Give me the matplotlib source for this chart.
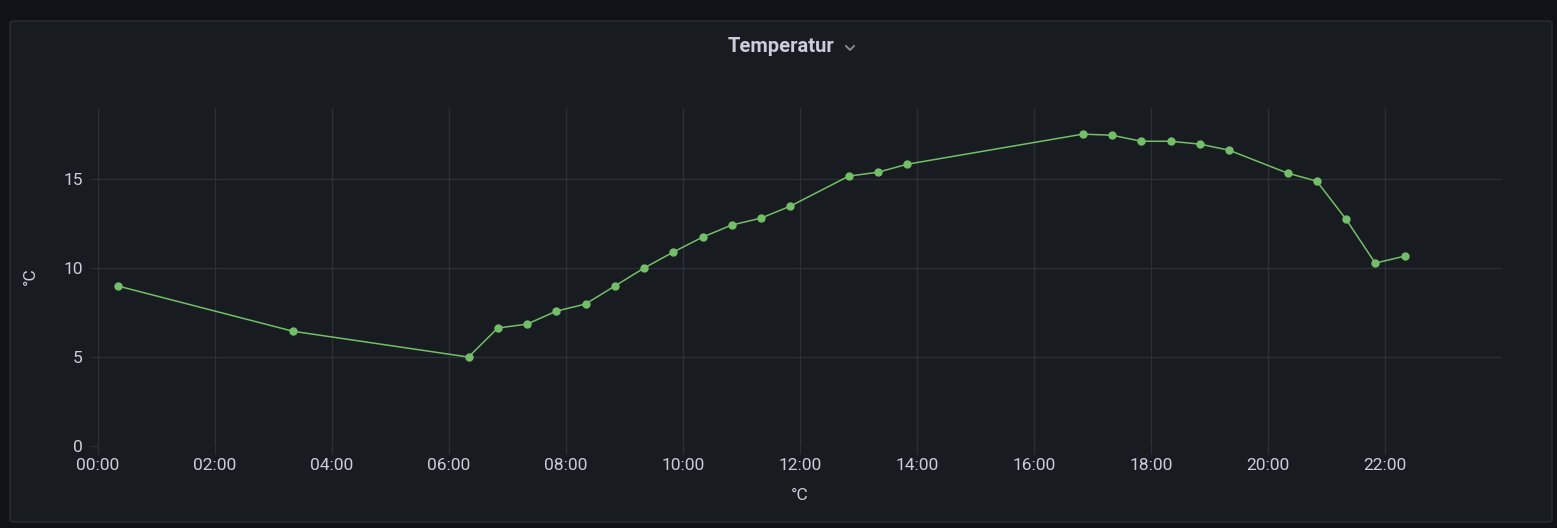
import matplotlib
matplotlib.use('Agg')
import matplotlib.pyplot as plt
from matplotlib.patches import FancyBboxPatch
from matplotlib.lines import Line2D

# Readings (time as "HH:MM", value in °C)
times = ['00:20', '03:20', '06:20', '06:50', '07:20', '07:50', '08:20', '08:50',
         '09:20', '09:50', '10:20', '10:50', '11:20', '11:50', '12:50', '13:20',
         '13:50', '16:50', '17:20', '17:50', '18:20', '18:50', '19:20', '20:20',
         '20:50', '21:20', '21:50', '22:20']
temps = [9.0, 6.45, 5.0, 6.63, 6.85, 7.58, 7.98, 8.99, 10.0, 10.9, 11.74, 12.42,
         12.81, 13.48, 15.17, 15.39, 15.84, 17.53, 17.47, 17.13, 17.13, 16.97,
         16.63, 15.34, 14.89, 12.75, 10.28, 10.67]
x_ticks = list(range(0, 24, 2))
x_ticklabels = [f'{h:02d}:00' for h in x_ticks]
y_ticks = [0, 5, 10, 15]

hours = [int(t[:2]) + int(t[3:]) / 60 for t in times]

plt.rcParams['font.family'] = ['Roboto', 'DejaVu Sans']

W, H = 1557, 528
fig = plt.figure(figsize=(W / 100, H / 100), dpi=100, facecolor='#111217')

# panel background
panel = FancyBboxPatch((10 / W, 1 - 522 / H), 1542 / W, 501 / H,
                       boxstyle='round,pad=0,rounding_size=0.003',
                       transform=fig.transFigure, facecolor='#181b1f',
                       edgecolor='#2a2d33', linewidth=1, zorder=-5)
fig.patches.append(panel)

fig.text(781 / W, 1 - 47 / H, 'Temperatur', color='#ccccdc', fontsize=14.5,
         fontweight='bold', ha='center', va='center')
# dropdown chevron
fig.add_artist(Line2D([846 / W, 850 / W, 854 / W],
                      [1 - 46 / H, 1 - 50 / H, 1 - 46 / H],
                      transform=fig.transFigure, color='#8e8e9a', linewidth=1.3))

ax = fig.add_axes([98 / W, 1 - 446 / H, (1502 - 98) / W, (446 - 108) / H])
ax.set_facecolor('#181b1f')
ax.plot(hours, temps, color='#73bf69', linewidth=1.1, marker='o',
        markersize=5, zorder=3)

ax.set_xlim(0, 24)
ax.set_ylim(0, 19)
ax.set_xticks(x_ticks)
ax.set_xticklabels(x_ticklabels)
ax.set_yticks(y_ticks)

grid_c = '#2c2f35'
ax.grid(True, color=grid_c, linewidth=1)
for s in ax.spines.values():
    s.set_visible(False)
ax.tick_params(axis='x', colors=grid_c, labelcolor='#ccccdc', labelsize=12.5,
               length=6, width=1, pad=3)
ax.tick_params(axis='y', colors=grid_c, labelcolor='#ccccdc', labelsize=12.5,
               length=5, width=1, pad=6)

# axis labels
fig.text(800 / W, 1 - 496 / H, '°C', color='#ccccdc', fontsize=12.5,
         ha='center', va='center')
fig.text(30 / W, 1 - 276 / H, '°C', color='#ccccdc', fontsize=12.5,
         ha='center', va='center', rotation=90)

fig.savefig('out.png', dpi=100, facecolor=fig.get_facecolor())
